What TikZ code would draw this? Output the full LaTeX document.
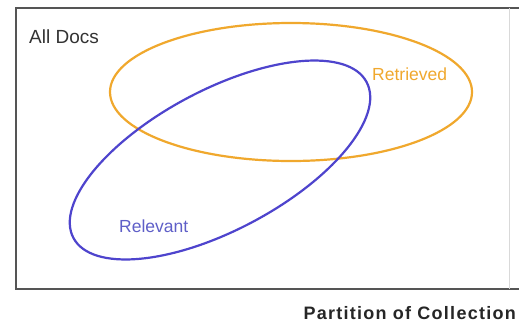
\documentclass[tikz,border=0pt]{standalone}
\usepackage{fontspec}
\setmainfont{Liberation Sans}
\definecolor{retr}{RGB}{240,168,45}
\definecolor{relv}{RGB}{78,68,205}
\definecolor{relvtxt}{RGB}{95,95,200}
\definecolor{frame}{RGB}{85,85,85}
\begin{document}
\begin{tikzpicture}[x=1pt,y=-1pt,
  lbl/.style={inner sep=0pt,font=\fontsize{17.5}{20}\selectfont},
  ring/.style={line width=2.2pt}]
\useasboundingbox (0,0) rectangle (519,322);
\fill[white] (0,0) rectangle (519,322);
% frame
\draw[frame,line width=1.8pt] (519,8) -- (16,8) -- (16,289) -- (519,289);
\draw[black!15,line width=0.8pt] (509,8) -- (509,289);
% ellipses
\draw[ring,retr] (291,92) ellipse [x radius=181, y radius=69];
\draw[ring,relv] (220,160) ellipse [x radius=166, y radius=70, rotate=28];
% labels
\node[lbl,anchor=west,text=black!80,font=\fontsize{19}{22}\selectfont] (all) at (29,37) {All Docs};
\node[lbl,anchor=west,text=retr] (ret) at (372,74) {Retrieved};
\node[lbl,anchor=west,text=relvtxt] (rel) at (119,226) {Relevant};
\node[lbl,anchor=east,text=black!85,font=\fontsize{18}{20}\selectfont\bfseries,
  execute at begin node={\addfontfeatures{LetterSpace=7}}] (part) at (516,313) {Partition of Collection};
\end{tikzpicture}
\end{document}
